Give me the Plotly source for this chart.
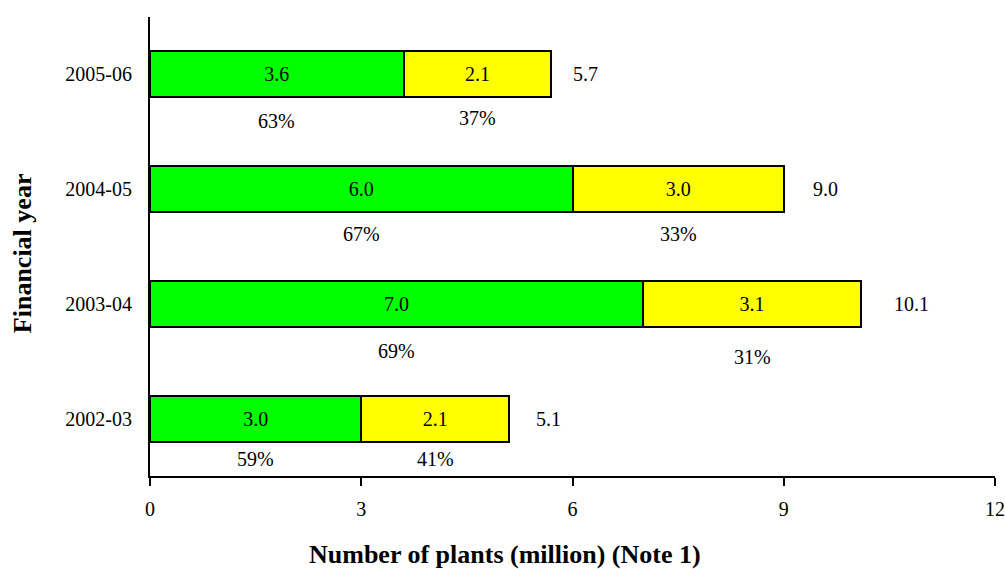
import plotly.graph_objects as go

# Data (bottom to top)
years = ["2002-03", "2003-04", "2004-05", "2005-06"]
green_vals = [3.0, 7.0, 6.0, 3.6]
yellow_vals = [2.1, 3.1, 3.0, 2.1]
totals = [5.1, 10.1, 9.0, 5.7]
green_pct = ["59%", "69%", "67%", "63%"]
yellow_pct = ["41%", "31%", "33%", "37%"]
x_ticks = [0, 3, 6, 9, 12]

# Style / placement (not data)
FONT = "Liberation Serif, Times New Roman, serif"
green_pct_shift = [-40, -47, -45, -47]
yellow_pct_shift = [-40, -53, -45, -44]
total_xshift = [25, 31, 27, 20]

fig = go.Figure()
fig.add_trace(go.Bar(
    y=years, x=green_vals, orientation="h",
    marker=dict(color="#00FF00", line=dict(color="black", width=2)),
    text=[f"{v:.1f}" for v in green_vals], textposition="inside",
    insidetextanchor="middle", textfont=dict(color="black", size=20, family=FONT),
    showlegend=False, hoverinfo="skip",
))
fig.add_trace(go.Bar(
    y=years, x=yellow_vals, orientation="h",
    marker=dict(color="#FFFF00", line=dict(color="black", width=2)),
    text=[f"{v:.1f}" for v in yellow_vals], textposition="inside",
    insidetextanchor="middle", textfont=dict(color="black", size=20, family=FONT),
    showlegend=False, hoverinfo="skip",
))

annotations = []
for i, yr in enumerate(years):
    g, yv, t = green_vals[i], yellow_vals[i], totals[i]
    annotations.append(dict(x=t, y=yr, xref="x", yref="y", text=f"{t:.1f}",
                            showarrow=False, xanchor="left", xshift=total_xshift[i],
                            font=dict(size=20, family=FONT, color="black")))
    annotations.append(dict(x=g / 2, y=yr, xref="x", yref="y", text=green_pct[i],
                            showarrow=False, yshift=green_pct_shift[i],
                            font=dict(size=20, family=FONT, color="black")))
    annotations.append(dict(x=g + yv / 2, y=yr, xref="x", yref="y", text=yellow_pct[i],
                            showarrow=False, yshift=yellow_pct_shift[i],
                            font=dict(size=20, family=FONT, color="black")))

annotations.append(dict(text="<b>Financial year</b>", xref="paper", yref="paper",
                        x=-0.150, y=0.486, textangle=-90, showarrow=False,
                        xanchor="center", yanchor="middle",
                        font=dict(size=26, family=FONT, color="black")))
annotations.append(dict(text="<b>Number of plants (million) (Note 1)</b>", xref="paper",
                        yref="paper", x=0.42, y=-0.170, showarrow=False,
                        xanchor="center", yanchor="middle",
                        font=dict(size=26, family=FONT, color="black")))

fig.update_layout(
    width=1005, height=569,
    margin=dict(l=150, r=10, t=17, b=93),
    barmode="stack", bargap=0.6,
    plot_bgcolor="white", paper_bgcolor="white",
    font=dict(family=FONT, size=20, color="black"),
    annotations=annotations,
    uniformtext=dict(mode="show", minsize=10),
)
fig.update_xaxes(range=[0, 12], tickvals=x_ticks, ticktext=[str(v) for v in x_ticks],
                 automargin=False,
                 showgrid=False, zeroline=False, showline=True, linecolor="black",
                 linewidth=2, ticks="outside", ticklen=8, tickwidth=2, tickcolor="black",
                 ticklabelstandoff=6, tickfont=dict(size=20, family=FONT))
fig.update_yaxes(type="category", categoryorder="array", categoryarray=years,
                 automargin=False,
                 range=[-0.5, 3.5], showgrid=False, zeroline=False, showline=True,
                 linecolor="black", linewidth=2, ticks="", ticklabelstandoff=12,
                 tickfont=dict(size=20, family=FONT))

fig.write_html(
    "out.html",
    config={"displayModeBar": False},
    post_script="document.body.style.margin='0';document.body.style.overflow='hidden';",
)
